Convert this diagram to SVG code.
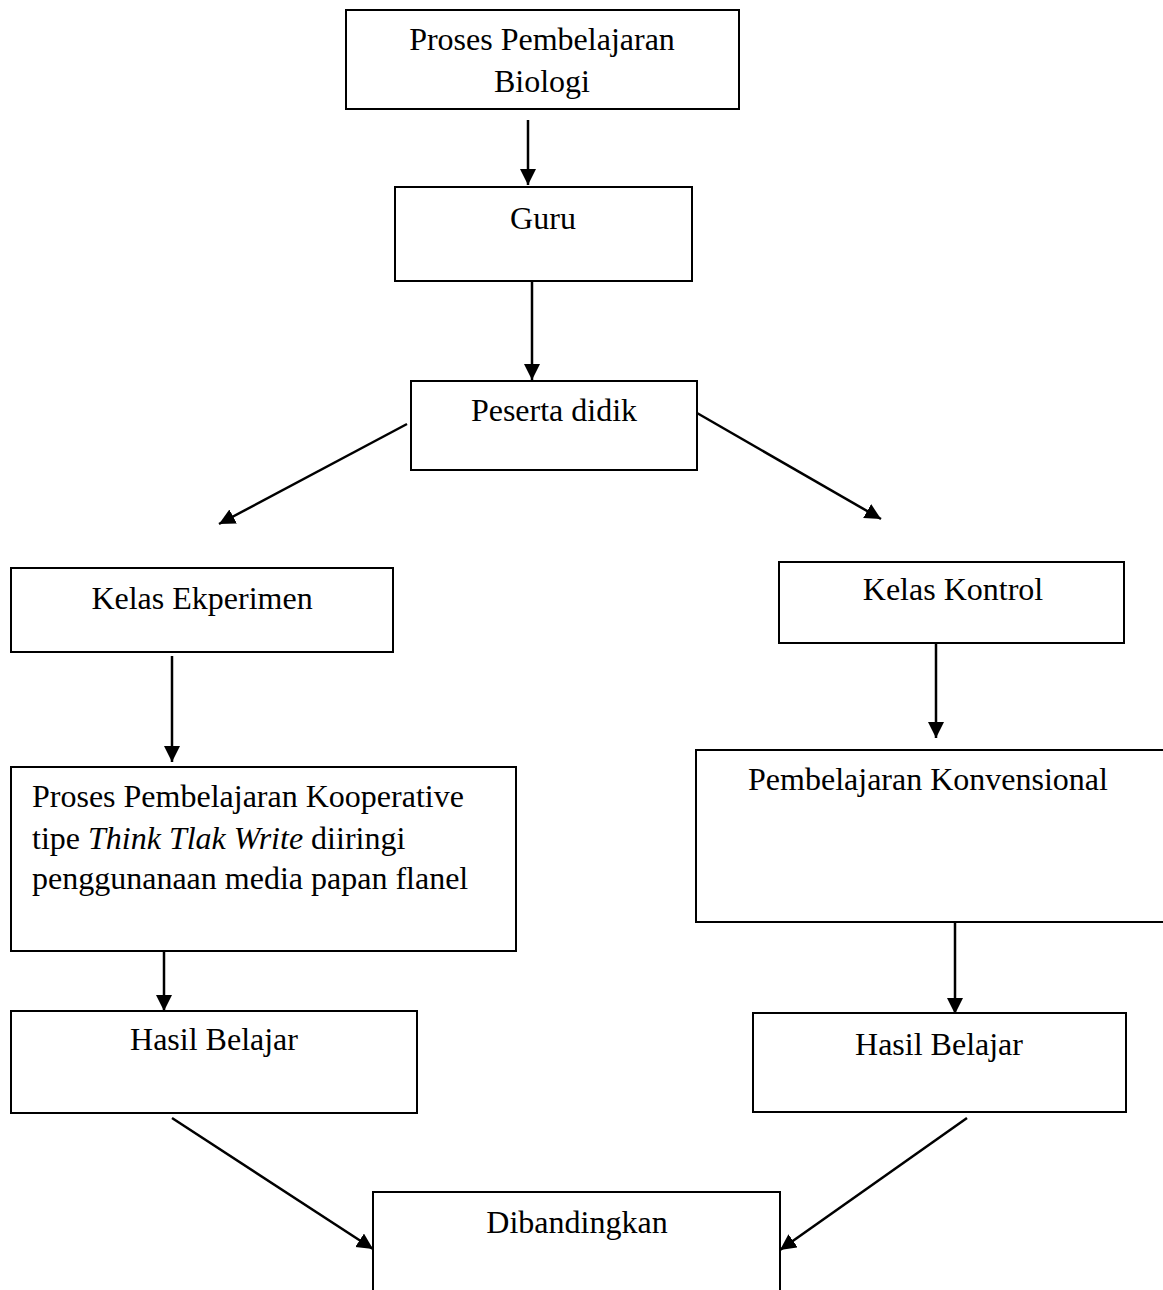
<svg xmlns="http://www.w3.org/2000/svg" width="1163" height="1290" viewBox="0 0 1163 1290">
<style>
.box{fill:#fff;stroke:#000;stroke-width:2}
.t{font-family:"Liberation Serif","Times New Roman",serif;font-size:32px;fill:#000}
.c{text-anchor:middle}
.ln{stroke:#000;stroke-width:2.5;fill:none;marker-end:url(#ah)}
</style>
<defs>
<marker id="ah" markerUnits="userSpaceOnUse" markerWidth="18" markerHeight="18" refX="16" refY="8" orient="auto">
<path d="M0,0 L16,8 L0,16 Z" fill="#000"/>
</marker>
</defs>
<rect width="1163" height="1290" fill="#fff"/>
<g id="connectors">
<line class="ln" x1="528" y1="120" x2="528" y2="185"/>
<line class="ln" x1="532" y1="282" x2="532" y2="380"/>
<line class="ln" x1="407" y1="424" x2="219" y2="524"/>
<line class="ln" x1="697" y1="413" x2="881" y2="519"/>
<line class="ln" x1="172" y1="656" x2="172" y2="762"/>
<line class="ln" x1="936" y1="643" x2="936" y2="738"/>
<line class="ln" x1="164" y1="935" x2="164" y2="1011"/>
<line class="ln" x1="955" y1="922" x2="955" y2="1014"/>
<line class="ln" x1="172" y1="1118" x2="373" y2="1249"/>
<line class="ln" x1="967" y1="1118" x2="780" y2="1250"/>
</g>
<g id="n1"><rect class="box" x="346" y="10" width="393" height="99"/>
<text class="t c" x="542" y="50">Proses Pembelajaran</text>
<text class="t c" x="542" y="92">Biologi</text></g>
<g id="n2"><rect class="box" x="395" y="187" width="297" height="94"/>
<text class="t c" x="543" y="229">Guru</text></g>
<g id="n3"><rect class="box" x="411" y="381" width="286" height="89"/>
<text class="t c" x="554" y="421">Peserta didik</text></g>
<g id="n4"><rect class="box" x="11" y="568" width="382" height="84"/>
<text class="t c" x="202" y="609">Kelas Ekperimen</text></g>
<g id="n5"><rect class="box" x="779" y="562" width="345" height="81"/>
<text class="t c" x="953" y="600">Kelas Kontrol</text></g>
<g id="n6"><rect class="box" x="11" y="767" width="505" height="184"/>
<text class="t" x="32" y="807">Proses Pembelajaran Kooperative</text>
<text class="t" x="32" y="849">tipe <tspan font-style="italic">Think Tlak Write</tspan> diiringi</text>
<text class="t" x="32" y="889">penggunanaan media papan flanel</text></g>
<g id="n7"><rect class="box" x="696" y="750" width="480" height="172"/>
<text class="t c" x="928" y="790">Pembelajaran Konvensional</text></g>
<g id="n8"><rect class="box" x="11" y="1011" width="406" height="102"/>
<text class="t c" x="214" y="1050">Hasil Belajar</text></g>
<g id="n9"><rect class="box" x="753" y="1013" width="373" height="99"/>
<text class="t c" x="939" y="1055">Hasil Belajar</text></g>
<g id="n10"><rect class="box" x="373" y="1192" width="407" height="120"/>
<text class="t c" x="577" y="1233">Dibandingkan</text></g>
</svg>
